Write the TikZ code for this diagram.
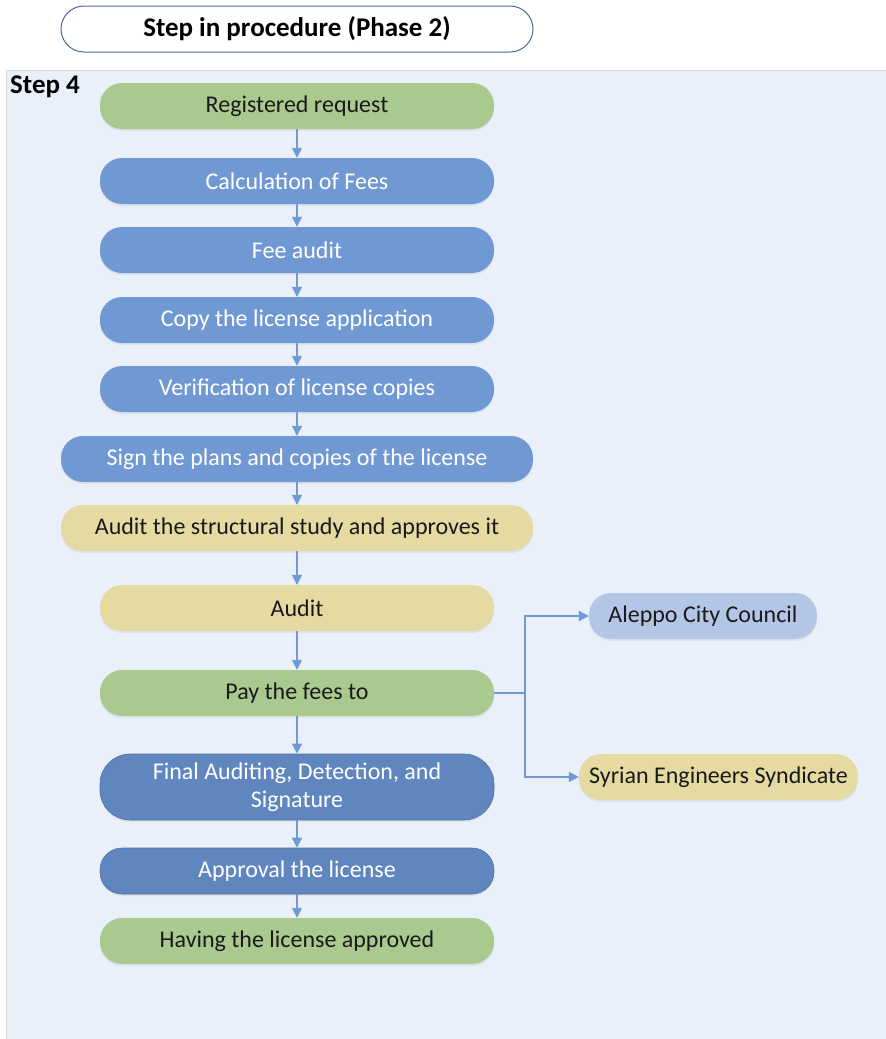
\documentclass[tikz,border=0pt]{standalone}
\usepackage{fontspec}
\setmainfont{Carlito}
\usetikzlibrary{arrows.meta,shadows}
\definecolor{panel}{HTML}{EAF0FA}
\definecolor{gfill}{HTML}{A9C98F}
\definecolor{bfill}{HTML}{7099D3}
\definecolor{dbfill}{HTML}{5F86BF}
\definecolor{yfill}{HTML}{E5DAA2}
\definecolor{lfill}{HTML}{B4C6E6}
\definecolor{arr}{HTML}{6F9AD3}
\definecolor{txt}{HTML}{1A1A1A}
\begin{document}
\begin{tikzpicture}[x=1pt,y=-1pt,
  box/.style={rounded corners=22pt,minimum height=46pt,inner sep=0pt,align=center,font=\fontsize{24}{28}\selectfont,
    drop shadow={shadow xshift=0pt,shadow yshift=-2pt,opacity=0.12}},
  gbox/.style={box,fill=gfill,text=txt},
  bbox/.style={box,fill=bfill,text=white},
  dbbox/.style={box,fill=dbfill,draw=dbfill!85!black,line width=0.6pt,text=white},
  ybox/.style={box,fill=yfill,text=txt},
  lbox/.style={box,fill=lfill,text=txt},
  conn/.style={draw=arr,line width=1.4pt,-{Triangle[length=10pt,width=10pt]}}]
\useasboundingbox (0,0) rectangle (886,1039);
\fill[white] (0,0) rectangle (886,1039);
\fill[panel] (6,70) rectangle (886,1039);
\draw[black!15,line width=1pt] (6,1039) -- (6,70) -- (886,70);
\node[draw=dbfill!80!black,line width=1pt,fill=white,rounded corners=23pt,minimum width=472pt,minimum height=46pt,
  font=\fontsize{27}{32}\selectfont\bfseries] (title) at (297,29) {Step in procedure (Phase 2)};
\node[anchor=north west,font=\fontsize{27}{32}\selectfont\bfseries,inner sep=0pt] (step) at (10,76) {Step 4};
\node[gbox,minimum width=394pt] (n1) at (297,106) {Registered request};
\node[bbox,minimum width=394pt] (n2) at (297,181) {Calculation of Fees};
\node[bbox,minimum width=394pt] (n3) at (297,250) {Fee audit};
\node[bbox,minimum width=394pt] (n4) at (297,320) {Copy the license application};
\node[bbox,minimum width=394pt] (n5) at (297,389) {Verification of license copies};
\node[bbox,minimum width=472pt] (n6) at (297,459) {Sign the plans and copies of the license};
\node[ybox,minimum width=472pt] (n7) at (297,528) {Audit the structural study and approves it};
\node[ybox,minimum width=394pt] (n8) at (297,608) {Audit};
\node[gbox,minimum width=394pt] (n9) at (297,693) {Pay the fees to};
\node[dbbox,minimum width=394pt,minimum height=66pt,rounded corners=30pt,font=\fontsize{24}{28}\selectfont] (n10) at (297,787) {Final Auditing, Detection, and\\Signature};
\node[dbbox,minimum width=394pt] (n11) at (297,871) {Approval the license};
\node[gbox,minimum width=394pt] (n12) at (297,941) {Having the license approved};
\node[lbox,minimum width=228pt] (a1) at (703,616) {Aleppo City Council};
\node[ybox,minimum width=279pt] (a2) at (718.5,777) {Syrian Engineers Syndicate};
\foreach \a/\b in {n1/n2,n2/n3,n3/n4,n4/n5,n5/n6,n6/n7,n7/n8,n8/n9,n9/n10,n10/n11,n11/n12}
  \draw[conn] (\a.south) -- (\b.north);
\coordinate (br) at (525,693);
\draw[draw=arr,line width=1.4pt] (n9.east) -- (br);
\draw[conn] (br) |- (a1.west);
\draw[conn] (br) |- (a2.west);
\end{tikzpicture}
\end{document}
